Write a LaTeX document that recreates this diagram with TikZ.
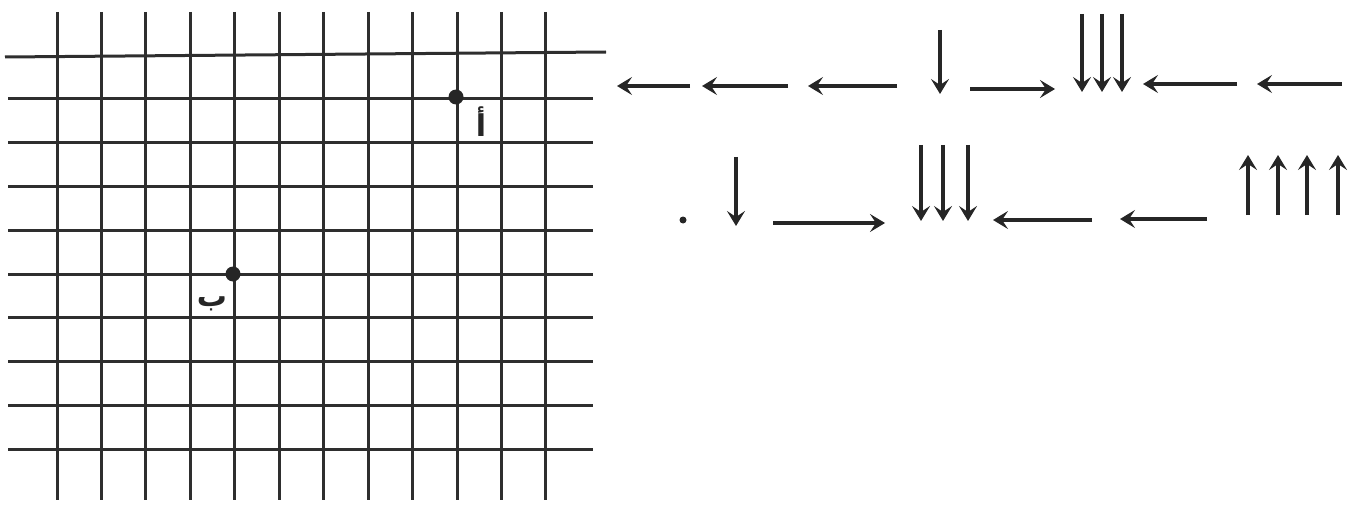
\documentclass[tikz,border=0pt]{standalone}
\usepackage{fontspec}
\newfontfamily\arabicfont[Script=Arabic]{DejaVu Sans}
\TeXXeTstate=1
\usetikzlibrary{arrows.meta}
\begin{document}
\begin{tikzpicture}[x=0.5pt,y=-0.5pt,
  gridline/.style={line width=1.5pt, black!82},
  arr/.style={line width=1.6pt, black!85, -{Stealth[length=7.5pt,width=9pt,inset=3pt]}},
  dotmark/.style={circle, fill=black!85, inner sep=0pt, minimum size=7.5pt},
  smalldot/.style={circle, fill=black!85, inner sep=0pt, minimum size=3.5pt},
  lbl/.style={font=\arabicfont\bfseries\fontsize{15}{15}\selectfont, inner sep=0pt, text=black!85}]
\useasboundingbox (0,0) rectangle (1360,508);
% grid: vertical lines
\foreach \i in {0,...,11} {
  \draw[gridline] ({57+\i*44.45},12) -- ({57+\i*44.45},500);
}
% grid: horizontal lines
\draw[gridline] (5,57) -- (606,52);
\foreach \j in {1,...,9} {
  \draw[gridline] (8,{55+\j*43.8}) -- (593,{55+\j*43.8});
}
% points and labels
\node[dotmark] (A) at (456,97) {};
\node[dotmark] (B) at (233,274) {};
\node[lbl] (Alab) at (481,122) {\beginR أ\endR};
\node[lbl] (Blab) at (212,304) {\beginR ب\endR};
% row 1 arrows
\foreach \n/\xs/\ys/\xe/\ye in {
  a1/690/86/617/86, a2/788/86/702/86, a3/897/86/808/86,
  a4/940/30/940/94, a5/970/89/1055/89,
  a6/1082/14/1082/92, a7/1102/14/1102/92, a8/1122/14/1122/92,
  a9/1237/84/1143/84, a10/1342/84/1257/84} {
  \coordinate (\n-s) at (\xs,\ys);
  \coordinate (\n-e) at (\xe,\ye);
  \draw[arr] (\n-s) -- (\n-e);
}
% row 2
\node[smalldot] (dot2) at (683,220) {};
\foreach \n/\xs/\ys/\xe/\ye in {
  b1/736/157/736/226, b2/773/223/885/223,
  b3/921/145/921/221, b4/943/145/943/221, b5/968/145/968/221,
  b6/1092/220/993/220, b7/1207/219/1120/219,
  b8/1248/215/1248/155, b9/1278/215/1278/155, b10/1307/215/1307/155, b11/1338/215/1338/155} {
  \coordinate (\n-s) at (\xs,\ys);
  \coordinate (\n-e) at (\xe,\ye);
  \draw[arr] (\n-s) -- (\n-e);
}
\end{tikzpicture}
\end{document}
